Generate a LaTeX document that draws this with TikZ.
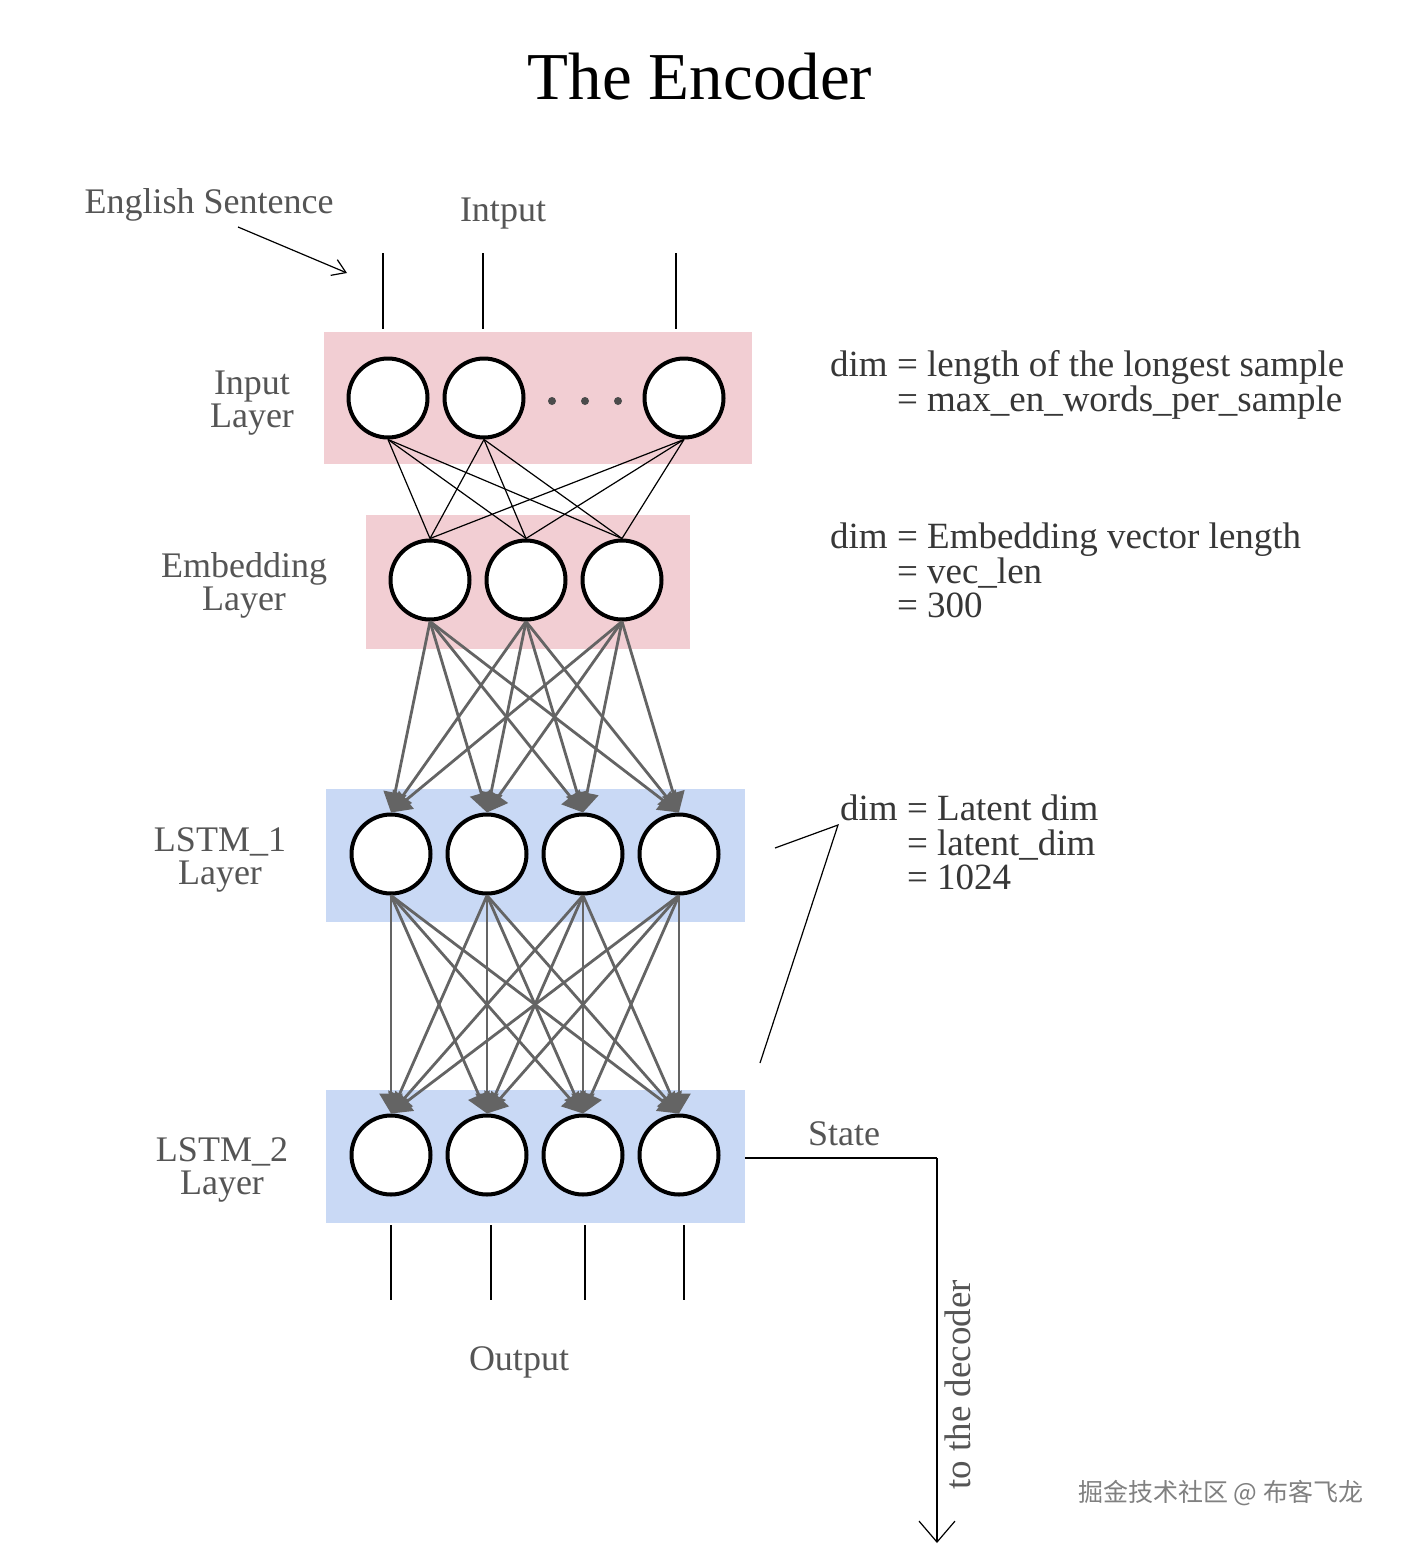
\documentclass[tikz,border=0pt]{standalone}
\usepackage{fontspec}
\setmainfont{Liberation Serif}
\newfontfamily\cjkfont{Noto Sans CJK SC}
\usetikzlibrary{arrows.meta}
\definecolor{pinkbg}{RGB}{242,206,211}
\definecolor{bluebg}{RGB}{201,217,245}
\definecolor{txtgray}{RGB}{85,85,85}
\definecolor{dimgray}{RGB}{55,55,55}
\definecolor{arrgray}{RGB}{100,100,100}
\definecolor{dotgray}{RGB}{75,75,75}
\begin{document}
\begin{tikzpicture}[x=1pt,y=-1pt,
  neuron/.style={circle,draw=black,line width=4pt,fill=white,minimum size=79pt,inner sep=0pt},
  band/.style={draw=none,inner sep=0pt},
  lbl/.style={text=txtgray,font=\fontsize{36}{32}\selectfont,anchor=base,inner sep=0pt},
  dimtxt/.style={text=dimgray,font=\fontsize{37}{32.5}\selectfont,anchor=base west,inner sep=0pt},
  thinline/.style={draw=black,line width=1.2pt},
  garrow/.style={draw=arrgray,line width=2.8pt,-{Triangle[length=20pt,width=23pt]}},
  dots/.style={circle,fill=dotgray,minimum size=8pt,inner sep=0pt}]
\useasboundingbox (0,0) rectangle (1400,1544);
\fill[white] (0,0) rectangle (1400,1544);

% title
\node[anchor=base,inner sep=0pt,font=\fontsize{67}{72}\selectfont] (title) at (700,100) {The Encoder};

% bands
\node[band,fill=pinkbg,minimum width=428pt,minimum height=132pt] (inband) at (538,398) {};
\node[band,fill=pinkbg,minimum width=324pt,minimum height=134pt] (emband) at (528,582) {};
\node[band,fill=bluebg,minimum width=419pt,minimum height=133pt] (l1band) at (535.5,855.5) {};
\node[band,fill=bluebg,minimum width=419pt,minimum height=133pt] (l2band) at (535.5,1156.5) {};

% neurons
\node[neuron] (i1) at (388,398) {};
\node[neuron] (i2) at (484,398) {};
\node[neuron] (i3) at (684,398) {};
\node[dots] (d1) at (552,401) {};
\node[dots] (d2) at (585,401) {};
\node[dots] (d3) at (618,401) {};

\node[neuron] (e1) at (430,580) {};
\node[neuron] (e2) at (526,580) {};
\node[neuron] (e3) at (622,580) {};

\node[neuron] (a1) at (391,854) {};
\node[neuron] (a2) at (487,854) {};
\node[neuron] (a3) at (583,854) {};
\node[neuron] (a4) at (679,854) {};

\node[neuron] (b1) at (391,1155) {};
\node[neuron] (b2) at (487,1155) {};
\node[neuron] (b3) at (583,1155) {};
\node[neuron] (b4) at (679,1155) {};

% input -> embedding
\foreach \i in {1,2,3}{
  \foreach \j in {1,2,3}{
    \draw[thinline] (i\i.south) -- (e\j.north);
  }
}
% embedding -> lstm1
\foreach \i in {1,2,3}{
  \foreach \j in {1,2,3,4}{
    \draw[garrow] (e\i.south) -- (a\j.north);
  }
}
% lstm1 -> lstm2
\foreach \i in {1,2,3,4}{
  \foreach \j in {1,2,3,4}{
    \draw[garrow] (a\i.south) -- (b\j.north);
  }
}

% input lines
\coordinate (it1) at (383,253); \coordinate (ib1) at (383,329);
\coordinate (it2) at (483,253); \coordinate (ib2) at (483,329);
\coordinate (it3) at (676,253); \coordinate (ib3) at (676,329);
\draw[thinline] (it1) -- (ib1);
\draw[thinline] (it2) -- (ib2);
\draw[thinline] (it3) -- (ib3);

% output lines
\coordinate (ot1) at (391,1225); \coordinate (ob1) at (391,1300);
\coordinate (ot2) at (491,1225); \coordinate (ob2) at (491,1300);
\coordinate (ot3) at (585,1225); \coordinate (ob3) at (585,1300);
\coordinate (ot4) at (684,1225); \coordinate (ob4) at (684,1300);
\draw[thinline] (ot1) -- (ob1);
\draw[thinline] (ot2) -- (ob2);
\draw[thinline] (ot3) -- (ob3);
\draw[thinline] (ot4) -- (ob4);

% top labels
\node[lbl] (eng) at (209,213) {English Sentence};
\node[lbl] (intput) at (503,221) {Intput};
\coordinate (engs) at (238,227);
\coordinate (enge) at (347,273);
\draw[thinline,-{Straight Barb[length=13pt,width=17pt]}] (engs) -- (enge);

% layer labels
\node[lbl] (lin) at (252,394) {\begin{tabular}[t]{@{}c@{}}Input\\Layer\end{tabular}};
\node[lbl] (lem) at (244,577) {\begin{tabular}[t]{@{}c@{}}Embedding\\Layer\end{tabular}};
\node[lbl] (la) at (220,851) {\begin{tabular}[t]{@{}c@{}}LSTM\_1\\Layer\end{tabular}};
\node[lbl] (lb) at (222,1161) {\begin{tabular}[t]{@{}c@{}}LSTM\_2\\Layer\end{tabular}};
\node[lbl] (outlbl) at (519,1370) {Output};

% dim texts
\node[dimtxt] (dA) at (830,376) {\begin{tabular}[t]{@{}r@{\ }l@{}}dim & = length of the longest sample\\ & = max\_en\_words\_per\_sample\end{tabular}};
\node[dimtxt] (dB) at (830,548) {\begin{tabular}[t]{@{}r@{\ }l@{}}dim & = Embedding vector length\\ & = vec\_len\\ & = 300\end{tabular}};
\node[dimtxt] (dC) at (840,820) {\begin{tabular}[t]{@{}r@{\ }l@{}}dim & = Latent dim\\ & = latent\_dim\\ & = 1024\end{tabular}};

% latent brace lines
\coordinate (lc0) at (775,848);
\coordinate (lc1) at (838,825);
\coordinate (lc2) at (760,1063);
\draw[thinline] (lc0) -- (lc1) -- (lc2);

% state
\node[lbl] (state) at (844,1145) {State};
\coordinate (s0) at (745,1158);
\coordinate (s1) at (937,1158);
\coordinate (s2) at (937,1543);
\draw[thinline] (s0) -- (s1);
\draw[thinline,-{Straight Barb[length=21pt,width=36pt]}] (s1) -- (s2);
\node[text=txtgray,font=\fontsize{37}{40}\selectfont,rotate=90,inner sep=0pt] (todec) at (958,1385) {to the decoder};

% watermark
\node[text=gray,font=\cjkfont\fontsize{25}{28}\selectfont,anchor=base west,inner sep=0pt] (wm) at (1078,1501) {掘金技术社区 @ 布客飞龙};
\end{tikzpicture}
\end{document}
